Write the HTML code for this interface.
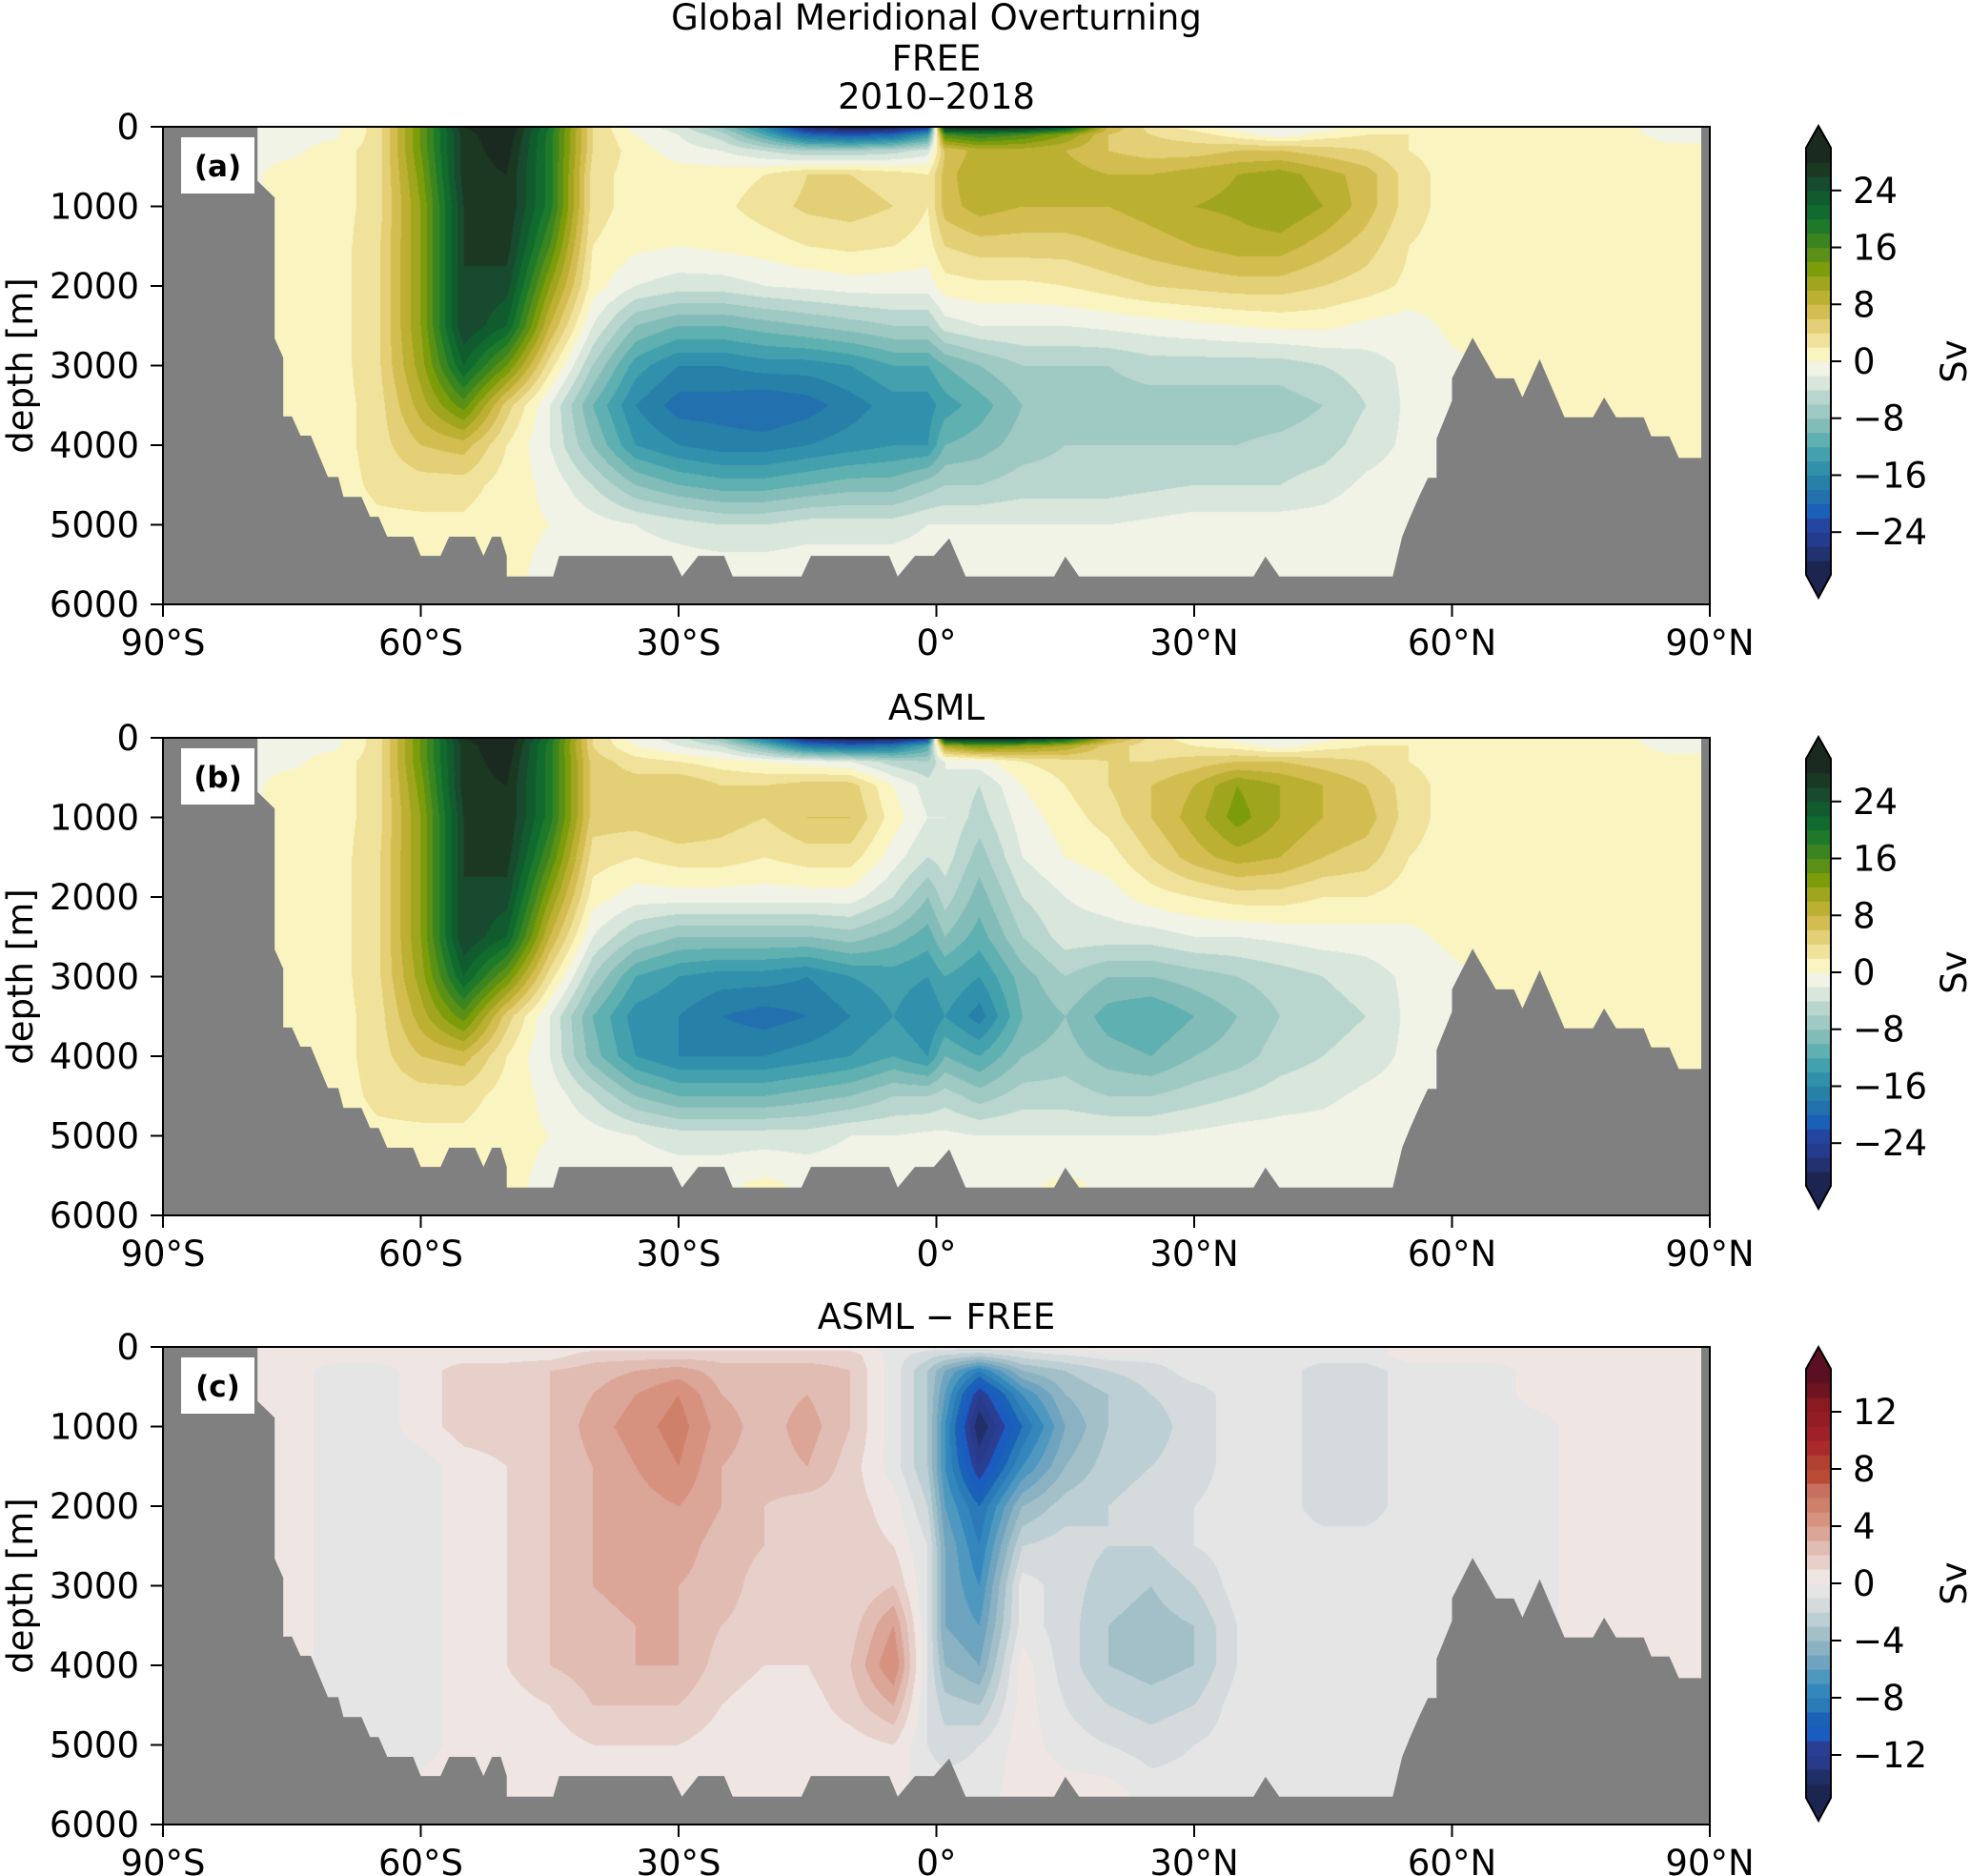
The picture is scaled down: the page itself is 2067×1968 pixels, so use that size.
<!DOCTYPE html>
<html><head><meta charset="utf-8">
<style>
html,body{margin:0;padding:0;background:#fff;width:2067px;height:1968px;overflow:hidden}
#wrap{position:relative;width:2067px;height:1968px;background:#fff}
canvas{position:absolute}
svg{position:absolute;left:0;top:0}
text{font-family:"DejaVu Sans","Liberation Sans",sans-serif;fill:#000}
</style></head>
<body>
<div id="wrap">
<canvas id="cv0" width="1623" height="501" style="left:171px;top:133px"></canvas>
<canvas id="cv1" width="1623" height="501" style="left:171px;top:774px"></canvas>
<canvas id="cv2" width="1623" height="501" style="left:171px;top:1413px"></canvas>
<svg id="ov" width="2067" height="1968" xmlns="http://www.w3.org/2000/svg"></svg>
</div>
<script>
const LATS=[-80,-75,-70,-65,-60,-55,-50,-45,-40,-35,-30,-25,-20,-15,-10,-5,-1,1,5,10,15,20,25,30,35,40,45,50,55,60,65,70,75,80,85,90];
const DEPTHS=[0,100,300,600,1000,1500,2000,2500,3000,3500,4000,4500,5000,5600];
const psiFree=[
[-1,-0.5,-0.5,3,14,28,31,20,4,-1,-3,-8,-16,-28,-30,-30,-26,30,30,30,24,8,3,1,-1,-2,-1,0.5,1,0.5,1,1,0.5,0.5,-1,-1],
[-0.5,-0.5,-0.5,3,14,27,30,19,4,0,-2,-5,-12,-20,-22,-20,-14,16,18,16,12,6,4,3,1,-1,1,2,2,1,1,1,1,0.5,-0.5,-0.5],
[-0.5,-0.5,1,3,14,27,29,19,4,1,-1,-2,-4,-6,-6,-5,-3,6,9,9,8,6,5,5,6,6,5,4,2,1,1,1,1,1,0.5,0.5],
[-0.5,1,1,3,13,27,28,19,3,1,1,1,2,4,4,3,2,7,10,9,9,8,8,9,10,11,9,7,3,1,1.5,2,1.5,1,1,1],
[-0.5,1,1,3,12,26,28,19,3,1,1,1.5,3,4.5,5,4,2,7,9,8,8,8,9,10,10.5,12,10,7,3,1,1.5,2,1.5,1,1,1],
[-0.5,1,1,3.5,12,26,27,16,2,0.5,0,0.5,1,2,2.5,2,1,4,5,5,5,6,7,8,9,9,7,5,2,1,1,1,1,1,1,1],
[-0.5,1,1,3.5,12,26,25,12,1,-2,-3,-3,-2,-1.5,-1,-1,-1,1,1.5,1.5,2,3,4,4.5,5,5,4,3,1.5,1,1,1,1,1,1,1],
[-0.5,1,1,3.5,12,26,22,8,-2,-8,-10,-10,-9,-8,-7,-6,-6,-3,-2,-2,-2,-1.5,-1,-0.5,0,0.5,0.5,-0.5,-1,0.5,1,1,1,1,1,1],
[-0.5,1,1,3.5,11,22,14,3,-6,-13,-16,-16,-15,-15,-14,-12,-12,-10,-8,-6,-6,-6,-5,-5,-5,-5,-4,-3,-1.5,-0.5,0.5,1,1,1,1,1],
[-0.5,1,1,3,9,15,5,-2,-10,-16,-19,-19,-20,-19,-17,-15,-15,-13,-11,-8,-7,-7,-7,-7,-7,-7,-6,-4,-1.5,-0.5,0.5,1,1,1,1,1],
[-0.5,1,1,3,6,7,2,-2,-8,-14,-16,-17,-17,-16,-15,-14,-14,-10,-9,-7,-6,-6,-6,-6,-6,-5.5,-5,-3,-1.5,-1,0.5,1,1,1,1,1],
[-0.5,1,1,2.5,3,3,1,-0.5,-4,-8,-10,-11,-11,-10,-9,-9,-7,-6,-6,-5,-5,-5,-4.5,-4,-4,-4,-3,-1.5,-1,-1,0.5,1,1,1,1,1],
[-0.5,1,1,1.5,1.5,1.5,0.5,0,-1,-2,-3,-4,-4,-3,-3,-3,-2,-2,-2,-2,-2,-2,-1.5,-1,-1,-1,-1,-0.5,-0.5,-0.5,0.5,1,1,1,1,1],
[-0.5,0.5,1,1,1,1,0.5,-0.5,-0.5,-0.5,-0.5,-0.5,-0.5,-0.5,-0.5,-0.5,-0.5,-0.5,-0.5,-0.5,-0.5,-0.5,-0.5,-0.5,-0.5,-0.5,-0.5,-0.5,-0.5,-0.5,0.5,1,1,1,1,1]
];
const psiAsml=[
[-1,-0.5,-0.5,3,14,28,31,20,4,-1,-3,-8,-18,-28,-30,-30,-26,30,30,30,24,10,3,1,-1,-2,-1,0.5,1,0.5,1,1,0.5,0.5,-1,-1],
[-0.5,-0.5,-0.5,3,14,27,30,19,4,0,-2,-4,-10,-18,-20,-18,-12,10,14,12,10,5,3,2,1,-1,1,2,2,1,1,1,1,0.5,-0.5,-0.5],
[-0.5,-0.5,1,3,14,27,29,19,5,3,2,1,0,-1,-2,-5,-6,-2,-1,2,3,4,4,5,6,6,5,4,2,1,1,1,1,1,0.5,0.5],
[-0.5,1,1,3,13,27,28,19,5,5,6,4,4,5,5,0,-3,-2,-4,0,2,4,6,8,12,10,8,6,3,1,2,2,2,1,1,1],
[-0.5,1,1,3,12,26,28,19,5,5,6,5,4,6,6,1,-2,-2,-5,-1,1,3,6,9,13,10,8,7,3,1,1.5,2,1.5,1,1,1],
[-0.5,1,1,3.5,12,26,27,16,3,2,3,3,2,3,3,-1,-4,-3,-7,-2,0,1,4,7,9,8,6,5,2,1,1,1,1,1,1,1],
[-0.5,1,1,3.5,12,26,25,12,1,-1,-1,-1,-1,-1,-1,-4,-8,-5,-9,-4,-2,-1,1,2,3,3,2,2,1,1,1,1,1,1,1,1],
[-0.5,1,1,3.5,12,26,22,8,-2,-6,-8,-8,-8,-8,-7,-9,-11,-8,-11,-6,-3,-3,-3,-2,-2,-1.5,-1,-1,-0.5,0.5,1,1,1,1,1,1],
[-0.5,1,1,3.5,11,22,14,3,-6,-12,-14,-15,-15,-16,-14,-13,-14,-12,-14,-9,-6,-8,-8,-7,-6,-5,-4,-3,-1.5,-0.5,0.5,1,1,1,1,1],
[-0.5,1,1,3,9,15,5,-2,-10,-15,-16,-18,-19,-18,-16,-14,-16,-14,-17,-10,-8,-11,-12,-10,-8,-6,-5,-4,-1.5,-0.5,0.5,1,1,1,1,1],
[-0.5,1,1,3,6,7,2,-2,-9,-14,-16,-16,-16,-15,-14,-12,-14,-10,-12,-8,-7,-9,-10,-8,-7,-5,-4,-3,-1.5,-1,0.5,1,1,1,1,1],
[-0.5,1,1,2.5,3,3,1,-0.5,-4,-8,-10,-10,-10,-9,-8,-6,-6,-5,-7,-5,-5,-6,-6,-5,-4,-3,-2.5,-1.5,-1,-1,0.5,1,1,1,1,1],
[-0.5,1,1,1.5,1.5,1.5,0.5,0,-1,-2,-3,-3,-3,-3,-2,-2,-1.5,-1.5,-2,-2,-2,-2,-2,-1.5,-1,-1,-1,-0.5,-0.5,-0.5,0.5,1,1,1,1,1],
[-0.5,0.5,1,1,1,1,0.5,-0.5,-0.5,-0.5,-0.5,-0.5,0.5,-0.5,-0.5,-0.5,-0.5,-0.5,-0.5,-0.5,0.5,-0.5,-0.5,-0.5,-0.5,-0.5,-0.5,-0.5,-0.5,-0.5,0.5,1,1,1,1,1]
];
const psiDiff=[
[0.5,0.5,0.5,0.5,0.5,0.5,0.5,0.5,0.5,0.5,0.5,0.5,0.5,0.5,0.5,-0.5,-0.5,-0.5,-0.5,-0.5,0.5,0.5,0.5,-0.5,-0.5,-0.5,-0.5,-0.5,0.5,0.5,0.5,0.5,0.5,0.5,0.5,0.5],
[0.5,0.5,0.5,0.5,0.5,0.5,0.5,0.5,1.5,1.5,1.5,1.5,1.5,1.5,1.5,-0.5,-1.5,-2,-2.5,-1.5,-1,-0.5,-0.5,-0.5,-0.5,-0.5,-0.5,-0.5,0.5,0.5,0.5,0.5,0.5,0.5,0.5,0.5],
[0.5,0.5,-0.5,-0.5,0.5,1.5,1.5,2,2.5,3,3.5,2.5,2.5,2.5,2,-0.5,-3,-5,-8,-4,-3,-2,-1.5,-0.5,-0.5,-0.5,-1.5,-1.5,-0.5,-0.5,-0.5,0.5,0.5,0.5,0.5,0.5],
[0.5,0.5,-0.5,-0.5,0.5,1.5,1.5,2,3,4,5,3,2.5,3,2,-0.5,-3,-6,-12,-7,-4,-3,-2,-1.5,-0.5,-0.5,-1.5,-1.5,-0.5,-0.5,-0.5,0.5,0.5,0.5,0.5,0.5],
[0.5,0.5,-0.5,-0.5,0.5,1.5,1.5,2,3.5,4.5,5.5,3.5,2.5,3.5,2,-0.5,-3,-7,-14,-9,-5,-3,-2.5,-1.5,-0.5,-0.5,-1.5,-1.5,-0.5,-0.5,-0.5,-0.5,0.5,0.5,0.5,0.5],
[0.5,0.5,-0.5,-0.5,-0.5,0.5,1,2,3,4,5,3,2.5,3,1.5,-0.5,-3,-7,-12,-7,-4,-2.5,-2,-1.5,-0.5,-0.5,-1.5,-1.5,-0.5,-0.5,-0.5,-0.5,0.5,0.5,0.5,0.5],
[0.5,0.5,-0.5,-0.5,-0.5,0.5,1,2,3,3.5,4,3,2,1.5,1.5,0.5,-2,-6,-9,-4,-2.5,-2,-1.5,-1,-0.5,-0.5,-1.5,-1.5,-0.5,-0.5,-0.5,-0.5,0.5,0.5,0.5,0.5],
[0.5,0.5,-0.5,-0.5,-0.5,0.5,1,2,3,3.5,3.5,2.5,2,1.5,1.5,1,-1,-5,-8,-2,-1.5,-2,-2,-1,-0.5,-0.5,-0.5,-0.5,-0.5,-0.5,-0.5,-0.5,0.5,0.5,0.5,0.5],
[0.5,0.5,-0.5,-0.5,-0.5,0.5,1,2,3,3.5,3,2.5,1.5,1,1,2,-1,-5,-7,-0.5,-1.5,-2.5,-3,-2,-0.5,-0.5,-0.5,-0.5,-0.5,-0.5,-0.5,-0.5,0.5,0.5,0.5,0.5],
[0.5,0.5,-0.5,-0.5,-0.5,0.5,1,2,2.5,3,3,2,1.5,1,1.5,4,-1,-5,-6,-0.5,-1.5,-3,-3.5,-3,-1,-0.5,-0.5,-0.5,-0.5,-0.5,-0.5,-0.5,0.5,0.5,0.5,0.5],
[0.5,0.5,-0.5,-0.5,-0.5,0.5,1,2,2.5,3,3,1.5,1,1,2,5,-1,-4,-5,0.5,-1.5,-3,-3.5,-3,-1,-0.5,-0.5,-0.5,-0.5,-0.5,-0.5,-0.5,0.5,0.5,0.5,0.5],
[0.5,0.5,-0.5,-0.5,-0.5,0.5,0.5,1,2,2,2,1,0.5,0.5,1.5,3,-1,-2.5,-3,0.5,-1,-2,-2.5,-2,-0.5,-0.5,-0.5,-0.5,-0.5,-0.5,-0.5,-0.5,0.5,0.5,0.5,0.5],
[0.5,0.5,-0.5,-0.5,-0.5,0.5,0.5,0.5,1,1,1,0.5,0.5,0.5,0.5,1,-1,-1.5,-1,0.5,-0.5,-1,-1.5,-1,-0.5,-0.5,-0.5,-0.5,-0.5,-0.5,-0.5,-0.5,0.5,0.5,0.5,0.5],
[0.5,0.5,-0.5,-0.5,0.5,0.5,0.5,0.5,0.5,0.5,0.5,0.5,0.5,0.5,0.5,0.5,-0.5,-0.5,-0.5,0.5,0.5,0.5,-0.5,-0.5,-0.5,-0.5,-0.5,-0.5,-0.5,-0.5,-0.5,-0.5,0.5,0.5,0.5,0.5]
];
const bathyLat=[-90,-79,-79,-77,-77,-76,-76,-75,-74,-72.8,-70.8,-69.6,-69,-66.9,-65.9,-64.9,-63.9,-60.9,-60,-57.7,-56.7,-53.7,-52.7,-51.7,-50.7,-50,-50,-44.6,-43.9,-30.8,-29.6,-27.7,-24.7,-23.7,-15.7,-14.6,-5.5,-4.5,-2.5,-0.3,1.5,3.4,13.7,15,16.6,36.9,38.3,39.9,53.1,54.2,55.1,56.2,57.2,58.2,58.2,60,60,62.4,65.1,67.2,68.2,70.2,73.1,76.4,77.7,79.1,82.3,83.2,85.3,86.4,89,89,90,90,-90];
const bathyDepth=[0,0,680,890,2660,2900,3640,3640,3880,3880,4400,4400,4650,4650,4900,4900,5150,5150,5390,5390,5150,5150,5390,5150,5150,5390,5650,5650,5390,5390,5650,5390,5390,5650,5650,5390,5390,5650,5390,5390,5170,5650,5650,5400,5650,5650,5400,5650,5650,5150,4910,4640,4410,4410,3920,3440,3160,2650,3160,3160,3400,2920,3650,3650,3400,3650,3650,3890,3890,4160,4160,0,0,6000,6000];
const yTicks=[0,1000,2000,3000,4000,5000,6000];
const xTicks=[-90,-60,-30,0,30,60,90];
const xTickLabels=['90°S','60°S','30°S','0°','30°N','60°N','90°N'];
const cbTicksMain=[-24,-16,-8,0,8,16,24];
const cbTicksDiff=[-12,-8,-4,0,4,8,12];
const colorsMain=['#1b2550','#22316f','#253b8f','#2446a0','#1a5fb8','#2270ae','#2680a8','#3190ab','#43a1ad','#5fb0b0','#82bcb8','#9fc9c3','#b9d6ce','#d8e6dc','#f1f3e6','#faf5c0','#f0e29a','#e3cf75','#d4bd50','#bcb032','#a0a51e','#7d9c0a','#5a9016','#3b8520','#1e7a2a','#116b2e','#115c2f','#174a2e','#1b3823','#1a2a20'];
const colorsDiff=['#1b2650','#202f68','#283a8a','#2a3f93','#1a5cc0','#1a62b8','#2a7ab8','#3487bd','#4e98c0','#6ea4bf','#8ab2c2','#a3c0c9','#bccfd4','#d5dadc','#e5e5e5','#efe6e4','#e8d0ca','#e1bcb2','#dba597','#d6927f','#cf8068','#c87060','#b94b35','#b0402f','#aa2a2c','#a02028','#931d24','#8b1a20','#6e1420','#5a1020'];

const AX={left:171,width:1623,height:501};
const NS='http://www.w3.org/2000/svg';
const ov=document.getElementById('ov');
function xS(lat){return AX.left+(lat+90)/180*AX.width;}
function yS(top,d){return top+d/6000*AX.height;}
function mk(tag,attrs,parent){const e=document.createElementNS(NS,tag);for(const k in attrs)e.setAttribute(k,attrs[k]);(parent||ov).appendChild(e);return e;}
function hex(c){return [parseInt(c.slice(1,3),16),parseInt(c.slice(3,5),16),parseInt(c.slice(5,7),16)];}
function locate(arr,v){let i=0;if(v<=arr[0])return [0,0];if(v>=arr[arr.length-1])return [arr.length-2,1];while(i<arr.length-2&&arr[i+1]<v)i++;return [i,(v-arr[i])/(arr[i+1]-arr[i])];}

const panels=[
 {top:133,data:psiFree,colors:colorsMain,vmin:-30,step:2,label:'(a)',cb:'main'},
 {top:774,data:psiAsml,colors:colorsMain,vmin:-30,step:2,label:'(b)',cb:'main'},
 {top:1413,data:psiDiff,colors:colorsDiff,vmin:-15,step:1,label:'(c)',cb:'diff'}
];

panels.forEach((p,pi)=>{
 const cv=document.getElementById('cv'+pi);const ctx=cv.getContext('2d');
 const W=cv.width,H=cv.height;const img=ctx.createImageData(W,H);
 const rgb=p.colors.map(hex);
 const cols=[];for(let x=0;x<W;x++)cols.push(locate(LATS,-90+(x+0.5)/W*180));
 for(let y=0;y<H;y++){
  const [j,fy]=locate(DEPTHS,(y+0.5)/H*6000);
  const r0=p.data[j],r1=p.data[j+1];
  for(let x=0;x<W;x++){
   const [i,fx]=cols[x];
   const v=(r0[i]*(1-fx)+r0[i+1]*fx)*(1-fy)+(r1[i]*(1-fx)+r1[i+1]*fx)*fy;
   let k=Math.floor((v-p.vmin)/p.step);if(k<0)k=0;if(k>29)k=29;
   const c=rgb[k];const o=(y*W+x)*4;img.data[o]=c[0];img.data[o+1]=c[1];img.data[o+2]=c[2];img.data[o+3]=255;
  }
 }
 ctx.putImageData(img,0,0);

 const T=p.top;
 const pts=bathyLat.map((la,i)=>xS(la).toFixed(1)+','+yS(T,bathyDepth[i]).toFixed(1)).join(' ');
 const bath=mk('polygon',{points:pts,fill:'#808080'});
 
 
 const frame=mk('rect',{x:AX.left,y:T,width:AX.width,height:AX.height,fill:'none',stroke:'#000','stroke-width':2});
 
 
 yTicks.forEach(d=>{
  const yy=yS(T,d);
  const tk=mk('line',{x1:AX.left-13,x2:AX.left,y1:yy,y2:yy,stroke:'#000','stroke-width':2});
  
  
  const tl=mk('text',{x:146,y:yy+13,'text-anchor':'end','font-size':37});
  tl.textContent=String(d);
  
  
 });
 xTicks.forEach((la,i)=>{
  const xx=xS(la);
  const tk=mk('line',{x1:xx,x2:xx,y1:T+AX.height,y2:T+AX.height+13,stroke:'#000','stroke-width':2});
  
  
  const tl=mk('text',{x:xx,y:T+AX.height+53,'text-anchor':'middle','font-size':37});
  tl.textContent=xTickLabels[i];
  
  
 });
 const yl=mk('text',{x:0,y:0,'text-anchor':'middle','font-size':37,transform:'translate(34,'+(T+AX.height/2)+') rotate(-90)'});
 yl.textContent='depth [m]';
 
 
 const lb=mk('rect',{x:190,y:T+11,width:77,height:59,fill:'#fff'});
 
 
 const lt=mk('text',{x:228.5,y:T+52,'text-anchor':'middle','font-size':31,'font-weight':'bold'});
 lt.textContent=p.label;
 
 

 const cx0=1895,cx1=1921,cxm=1908;
 const rTop=(pi==2)?1436:T+22,rBot=(pi==2)?1886:T+470;
 const vmin=p.vmin,vmax=p.vmin+30*p.step;
 const cy=v=>rTop+(vmax-v)/(vmax-vmin)*(rBot-rTop);
 for(let k=0;k<30;k++){
  const lo=vmin+k*p.step,hi=lo+p.step;
  const b=mk('rect',{x:cx0,y:cy(hi),width:cx1-cx0,height:cy(lo)-cy(hi)+0.6,fill:p.colors[k]});
  
  
 }
 const tu=mk('polygon',{points:cx0+','+rTop+' '+cx1+','+rTop+' '+cxm+','+(rTop-23),fill:p.colors[29]});
 
 
 const td=mk('polygon',{points:cx0+','+rBot+' '+cx1+','+rBot+' '+cxm+','+(rBot+24),fill:p.colors[0]});
 
 
 const outl=mk('polygon',{points:cxm+','+(rTop-23)+' '+cx1+','+rTop+' '+cx1+','+rBot+' '+cxm+','+(rBot+24)+' '+cx0+','+rBot+' '+cx0+','+rTop,fill:'none',stroke:'#000','stroke-width':2});
 
 
 const ticks=p.cb=='main'?cbTicksMain:cbTicksDiff;
 ticks.forEach(v=>{
  const yy=cy(v);
  const tk=mk('line',{x1:cx1,x2:cx1+11,y1:yy,y2:yy,stroke:'#000','stroke-width':2});
  
  
  const tl=mk('text',{x:1944,y:yy+13,'font-size':37});
  tl.textContent=(v<0?'\u2212':'')+Math.abs(v);
  
  
 });
 const sv=mk('text',{x:0,y:0,'text-anchor':'middle','font-size':37,transform:'translate(2063,'+((rTop+rBot)/2)+') rotate(-90)'});
 sv.textContent='Sv';
 
 
});

const titles=[['Global Meridional Overturning',31],['FREE',74],['2010–2018',114],['ASML',755],['ASML − FREE',1394]];
titles.forEach(t=>{
 const e=mk('text',{x:AX.left+AX.width/2,y:t[1],'text-anchor':'middle','font-size':37});
 e.textContent=t[0];
 
 
});
</script>
</body></html>
